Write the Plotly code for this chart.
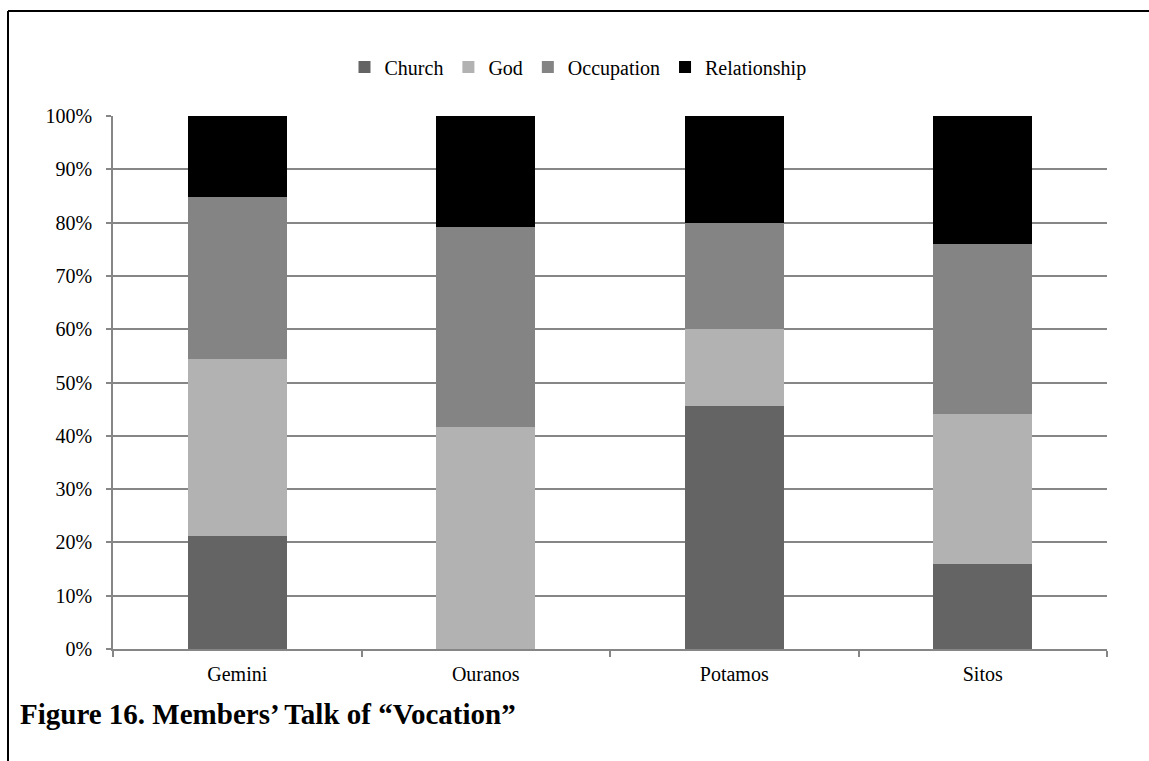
import plotly.graph_objects as go

# Share of each talk theme per congregation (fractions of 1)
groups = ["Gemini", "Ouranos", "Potamos", "Sitos"]
church = [0.212, 0.0, 0.455, 0.16]
god = [0.333, 0.417, 0.145, 0.28]
occupation = [0.303, 0.375, 0.20, 0.32]
relationship = [0.152, 0.208, 0.20, 0.24]

series = [
    ("Church", church, "#646464"),
    ("God", god, "#b2b2b2"),
    ("Occupation", occupation, "#848484"),
    ("Relationship", relationship, "#000000"),
]

W, H = 1149, 761
ML, MR, MT, MB = 113, 42, 116, 112
serif = "Liberation Serif, Times New Roman, serif"

fig = go.Figure()
for name, vals, color in series:
    fig.add_trace(go.Bar(
        x=groups, y=vals, name=name,
        marker=dict(color=color, line=dict(width=0)),
    ))

pw = W - ML - MR
ph = H - MT - MB


def px_x(x):
    return (x - ML) / pw


def px_y(y):
    return (H - MB - y) / ph


fig.update_layout(
    width=W, height=H,
    margin=dict(l=ML, r=MR, t=MT, b=MB),
    barmode="stack",
    bargap=0.6,
    plot_bgcolor="white",
    paper_bgcolor="white",
    font=dict(family=serif, size=20, color="#000000"),
    legend=dict(
        orientation="h",
        x=px_x(578), xanchor="center",
        y=px_y(67), yanchor="middle",
        font=dict(family=serif, size=20),
        traceorder="normal",
        itemwidth=30,
    ),
    xaxis=dict(
        type="category",
        tickson="boundaries",
        ticks="outside", ticklen=6, tickcolor="#868686", tickwidth=1.5,
        showline=True, linecolor="#868686", linewidth=1.5,
        showgrid=False,
        tickfont=dict(family=serif, size=20),
        ticklabelstandoff=6,
    ),
    yaxis=dict(
        range=[0, 1],
        dtick=0.1,
        tickformat=".0%",
        ticks="outside", ticklen=5, tickcolor="#868686", tickwidth=1.5,
        showline=True, linecolor="#868686", linewidth=1.5,
        showgrid=True, gridcolor="#868686", gridwidth=1.5,
        zeroline=False,
        tickfont=dict(family=serif, size=20),
        ticklabelstandoff=10,
    ),
    shapes=[
        # page frame: top and left rules
        dict(type="line", xref="paper", yref="paper",
             x0=px_x(8), x1=px_x(W + 5), y0=px_y(11), y1=px_y(11),
             line=dict(color="black", width=2)),
        dict(type="line", xref="paper", yref="paper",
             x0=px_x(8), x1=px_x(8), y0=px_y(11), y1=px_y(H + 5),
             line=dict(color="black", width=2)),
    ],
    annotations=[
        dict(
            text="<b>Figure 16. Members’ Talk of “Vocation”</b>",
            xref="paper", yref="paper",
            x=px_x(18), xanchor="left",
            y=px_y(714), yanchor="middle",
            showarrow=False,
            font=dict(family=serif, size=29, color="#000000"),
        )
    ],
)

fig.write_html("out.html")
